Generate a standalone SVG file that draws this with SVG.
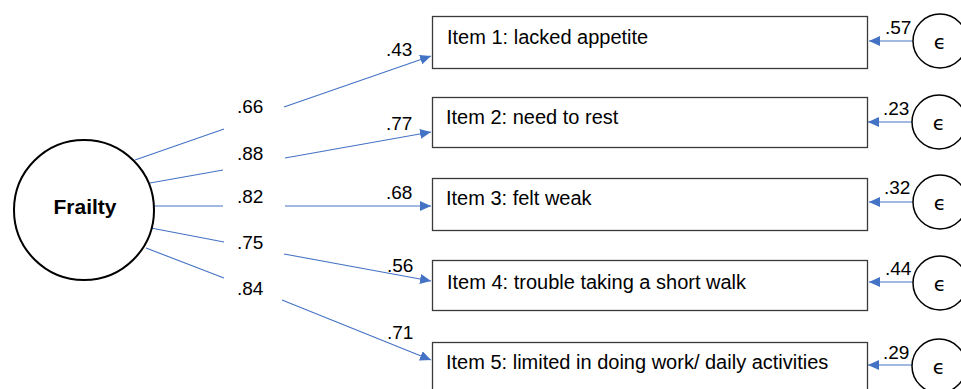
<svg xmlns="http://www.w3.org/2000/svg" width="961" height="389" viewBox="0 0 961 389">
<style>
.ln{stroke:#4472C4;stroke-width:1.1;fill:none}
.ar{stroke:#4472C4;stroke-width:1.1;fill:none;marker-end:url(#ah)}
.box{fill:#fff;stroke:#3a3a3a;stroke-width:1.3}
.eps{fill:#fff;stroke:#000;stroke-width:1.5}
.t{font-family:"Liberation Sans",Arial,sans-serif;font-size:19px;fill:#000}
.bt{font-family:"Liberation Sans",Arial,sans-serif;font-size:20px;fill:#000}
.e{font-family:"DejaVu Sans","Liberation Sans",sans-serif;font-size:20px;fill:#000;text-anchor:middle}
</style>
<defs>
<marker id="ah" markerUnits="userSpaceOnUse" markerWidth="12" markerHeight="10" refX="11" refY="5" orient="auto">
<path d="M0,0 L11,5 L0,10 Z" fill="#4472C4"/>
</marker>
</defs>
<g id="connectors">
<line class="ln" x1="135" y1="160" x2="224" y2="129"/>
<line class="ar" x1="284" y1="107" x2="431" y2="56"/>
<line class="ln" x1="150" y1="183" x2="223" y2="170"/>
<line class="ar" x1="285" y1="158" x2="431" y2="132"/>
<line class="ln" x1="154" y1="206" x2="223" y2="206"/>
<line class="ar" x1="285" y1="206" x2="431" y2="206"/>
<line class="ln" x1="151" y1="228" x2="224" y2="242"/>
<line class="ar" x1="284" y1="254" x2="431" y2="281"/>
<line class="ln" x1="146" y1="248" x2="224" y2="278"/>
<line class="ar" x1="282" y1="300" x2="431" y2="360"/>
<line class="ar" x1="913" y1="41" x2="869" y2="41"/>
<line class="ar" x1="912" y1="122" x2="868" y2="122"/>
<line class="ar" x1="913" y1="202" x2="869" y2="202"/>
<line class="ar" x1="913" y1="282" x2="869" y2="282"/>
<line class="ar" x1="912" y1="365" x2="868" y2="365"/>
</g>
<g id="loadings">
<text class="t" x="237" y="113">.66</text>
<text class="t" x="237" y="160">.88</text>
<text class="t" x="237" y="203">.82</text>
<text class="t" x="237" y="249">.75</text>
<text class="t" x="237" y="295">.84</text>
<text class="t" x="386" y="56">.43</text>
<text class="t" x="386" y="130">.77</text>
<text class="t" x="386" y="199">.68</text>
<text class="t" x="387" y="272">.56</text>
<text class="t" x="387" y="339">.71</text>
<text class="t" x="885" y="34">.57</text>
<text class="t" x="883" y="115">.23</text>
<text class="t" x="884" y="194">.32</text>
<text class="t" x="885" y="275">.44</text>
<text class="t" x="883" y="359">.29</text>
</g>
<g id="frailty">
<circle cx="84" cy="210" r="70" fill="#fff" stroke="#000" stroke-width="2"/>
<text x="85" y="214" font-family="Liberation Sans,Arial,sans-serif" font-size="21" font-weight="bold" text-anchor="middle">Frailty</text>
</g>
<g id="item1"><rect class="box" x="432.5" y="16.5" width="435" height="52"/><text class="bt" x="447" y="44">Item 1: lacked appetite</text></g>
<g id="item2"><rect class="box" x="432.5" y="97.5" width="435" height="50"/><text class="bt" x="446" y="124">Item 2: need to rest</text></g>
<g id="item3"><rect class="box" x="432.5" y="178.5" width="435" height="52"/><text class="bt" x="446" y="205">Item 3: felt weak</text></g>
<g id="item4"><rect class="box" x="432.5" y="260.5" width="435" height="50"/><text class="bt" x="447" y="289">Item 4: trouble taking a short walk</text></g>
<g id="item5"><rect class="box" x="432.5" y="342.5" width="435" height="52"/><text class="bt" x="446" y="369">Item 5: limited in doing work/ daily activities</text></g>
<g id="e1"><circle class="eps" cx="940" cy="41" r="27"/><text class="e" x="940" y="49">ϵ</text></g>
<g id="e2"><circle class="eps" cx="939" cy="122" r="27"/><text class="e" x="939" y="130">ϵ</text></g>
<g id="e3"><circle class="eps" cx="940" cy="202" r="27"/><text class="e" x="940" y="210">ϵ</text></g>
<g id="e4"><circle class="eps" cx="940" cy="283" r="27"/><text class="e" x="940" y="291">ϵ</text></g>
<g id="e5"><circle class="eps" cx="939" cy="366" r="27"/><text class="e" x="939" y="374">ϵ</text></g>
</svg>
